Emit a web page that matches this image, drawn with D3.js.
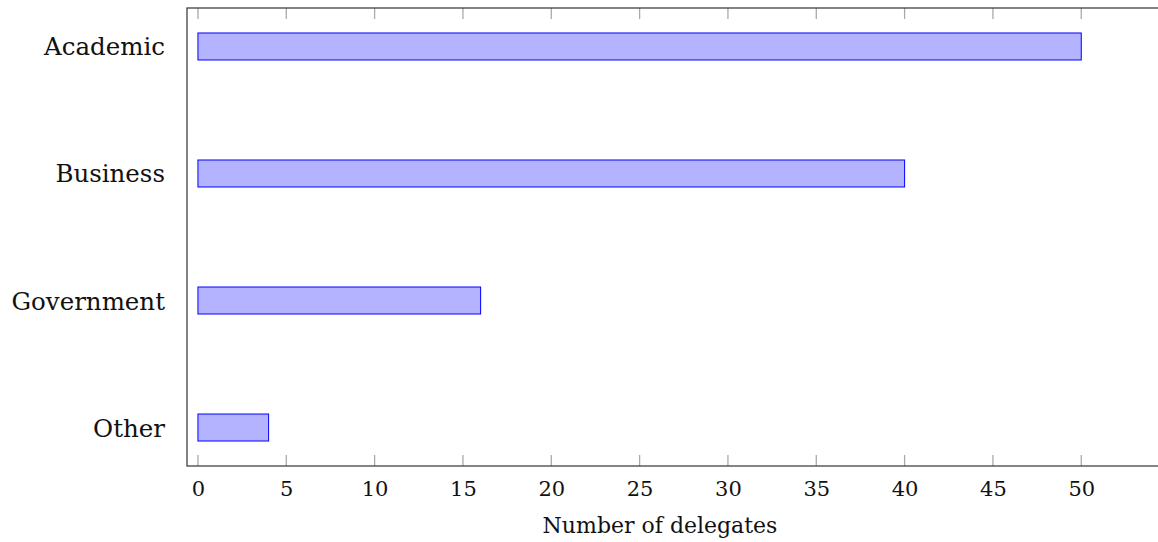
<!DOCTYPE html>
<html><head><meta charset="utf-8">
<script src="https://cdn.jsdelivr.net/npm/d3@7"></script>
<style>body{margin:0;background:#fff}svg{display:block}text{font-family:"DejaVu Serif",serif;fill:#111}</style>
</head><body><svg id="c" width="1158" height="542"></svg>
<script>
const categories = ["Academic","Business","Government","Other"];
const values = [50,40,16,4];
const xTicks = [0,5,10,15,20,25,30,35,40,45,50];
const xLabel = "Number of delegates";

const svg = d3.select("#c");
const L=187, R=1159, T=8, B=466;
const x = d3.scaleLinear().domain([-0.62,54.4]).range([L,R]);
const y = d3.scalePoint().domain(categories).range([T,B]).padding(0.303);
const bh = 27;

svg.selectAll("rect.bar").data(categories).join("rect")
  .attr("class","bar")
  .attr("x",x(0)).attr("y",d=>y(d)-bh/2)
  .attr("width",(d,i)=>x(values[i])-x(0)).attr("height",bh)
  .attr("fill","#b3b3ff").attr("stroke","#0000ff").attr("stroke-width",1);

const tg = svg.append("g");
xTicks.forEach(t=>{
  tg.append("line").attr("x1",x(t)).attr("x2",x(t)).attr("y1",T).attr("y2",T+11).attr("stroke","#aaa").attr("stroke-width",1.3);
  tg.append("line").attr("x1",x(t)).attr("x2",x(t)).attr("y1",B-11).attr("y2",B).attr("stroke","#aaa").attr("stroke-width",1.3);
});
svg.append("rect").attr("x",L).attr("y",T).attr("width",R-L).attr("height",B-T)
  .attr("fill","none").attr("stroke","#333").attr("stroke-width",1.2);

const xAxis = d3.axisBottom(x).tickValues(xTicks).tickSize(0).tickPadding(0);
const ga = svg.append("g").attr("transform",`translate(0,${B})`).call(xAxis);
ga.select(".domain").remove();
ga.selectAll("text").attr("font-size",21).attr("dy",null).attr("y",30)
  .style("font-family","'DejaVu Serif',serif").attr("fill","#111");

const yAxis = d3.axisLeft(y).tickSize(0).tickPadding(0);
const gy = svg.append("g").attr("transform",`translate(165,0)`).call(yAxis);
gy.select(".domain").remove();
gy.selectAll("text").attr("font-size",24.5).attr("dy",null).attr("y",8.5).attr("x",0)
  .style("font-family","'DejaVu Serif',serif").attr("fill","#111");

svg.append("text").attr("x",660).attr("y",533).attr("text-anchor","middle")
  .attr("font-size",22).text(xLabel);
</script></body></html>
